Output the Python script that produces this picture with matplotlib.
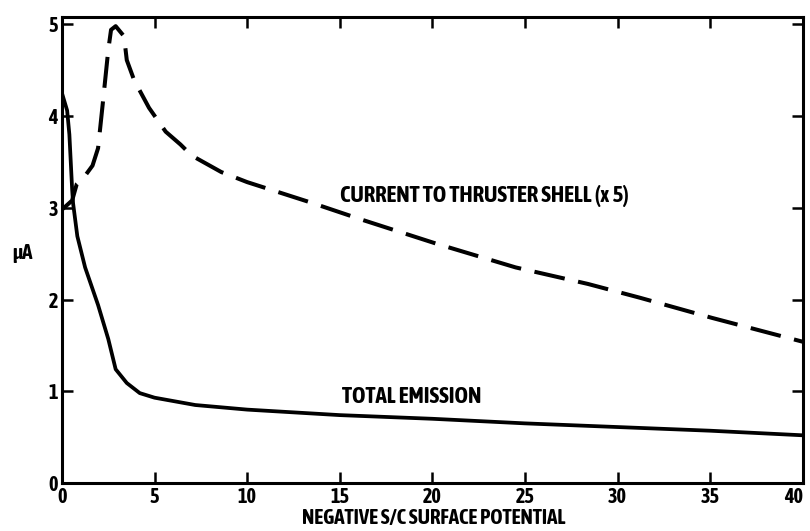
import matplotlib.pyplot as plt
from matplotlib import font_manager

emis_x = [0.0, 0.28, 0.4, 0.55, 0.6, 0.83, 1.25, 1.95, 2.5, 2.9, 3.5, 4.2, 5.0,
          7.2, 10, 15, 20, 25, 30, 35, 40]
emis_y = [4.25, 4.06, 3.8, 3.2, 3.05, 2.69, 2.35, 1.94, 1.57, 1.24, 1.09, 0.98, 0.93,
          0.85, 0.80, 0.74, 0.70, 0.65, 0.61, 0.57, 0.52]

shell_x = [0.0, 0.55, 0.8, 1.25, 1.65, 1.95, 2.2, 2.5, 2.65, 2.9, 3.35, 3.5, 3.9,
           4.7, 5.6, 6.4, 7.0, 8.6, 10, 13.4, 16.2, 20.2, 24.5, 28.4, 31.2, 35.1, 40]
shell_y = [2.98, 3.08, 3.26, 3.35, 3.46, 3.65, 4.13, 4.72, 4.94, 4.98, 4.87, 4.61, 4.39,
           4.09, 3.83, 3.69, 3.57, 3.39, 3.28, 3.06, 2.87, 2.61, 2.35, 2.17, 2.02, 1.80, 1.54]

x_ticks = [0, 5, 10, 15, 20, 25, 30, 35, 40]
y_ticks = [0, 1, 2, 3, 4, 5]

WEIGHTS = {'thin': 100, 'extra light': 200, 'light': 300, 'normal': 400, 'regular': 400,
           'book': 400, 'medium': 500, 'semibold': 600, 'demibold': 600, 'bold': 700,
           'extra bold': 800, 'heavy': 900, 'black': 900}


def wnum(w):
    if isinstance(w, int):
        return w
    return WEIGHTS.get(str(w).lower(), 400)


# look for a bold narrow face, otherwise Liberation Sans
fonts = font_manager.fontManager.ttflist
narrow = [f for f in fonts
          if ('narrow' in f.name.lower() or 'condensed' in f.name.lower())
          and wnum(f.weight) >= 600 and f.style == 'normal']
narrow.sort(key=lambda f: (abs(wnum(f.weight) - 700), 'extra' in f.name.lower()))
if narrow:
    font = font_manager.FontProperties(fname=narrow[0].fname)
    sz = 16.5
else:
    font = font_manager.FontProperties(family='Liberation Sans', weight='bold')
    sz = 10.5

fig = plt.figure(figsize=(8.1, 5.31), dpi=100)
ax = fig.add_axes([0.0765, 0.0904, 0.9145, 0.8776])

ax.plot(emis_x, emis_y, color='black', lw=2.7, solid_capstyle='round')
ax.plot(shell_x, shell_y, color='black', lw=2.9, dashes=(7.7, 3.4))

ax.set_xlim(0, 40)
ax.set_ylim(0, 5.08)
ax.set_xticks(x_ticks)
ax.set_yticks(y_ticks)
ax.tick_params(direction='in', length=8, width=1.8, top=True, right=True, pad=3)
for lab in ax.get_xticklabels() + ax.get_yticklabels():
    lab.set_fontproperties(font)
    lab.set_fontsize(sz - 2)
ax.get_xticklabels()[-1].set_ha('right')
for s in ax.spines.values():
    s.set_linewidth(2.2)

ax.text(15.0, 3.13, 'CURRENT TO THRUSTER SHELL (x 5)', fontproperties=font,
        fontsize=sz, va='center', ha='left')
ax.text(15.1, 0.94, 'TOTAL EMISSION', fontproperties=font, fontsize=sz,
        va='center', ha='left')

fig.text(0.536, 3 / 531, 'NEGATIVE S/C SURFACE POTENTIAL', fontproperties=font,
         fontsize=sz - 1.5, ha='center', va='bottom')
fig.text(0.028, (531 - 253) / 531, 'μA', fontproperties=font, fontsize=sz - 1.5,
         ha='center', va='center')

fig.savefig('out.png', dpi=100)
